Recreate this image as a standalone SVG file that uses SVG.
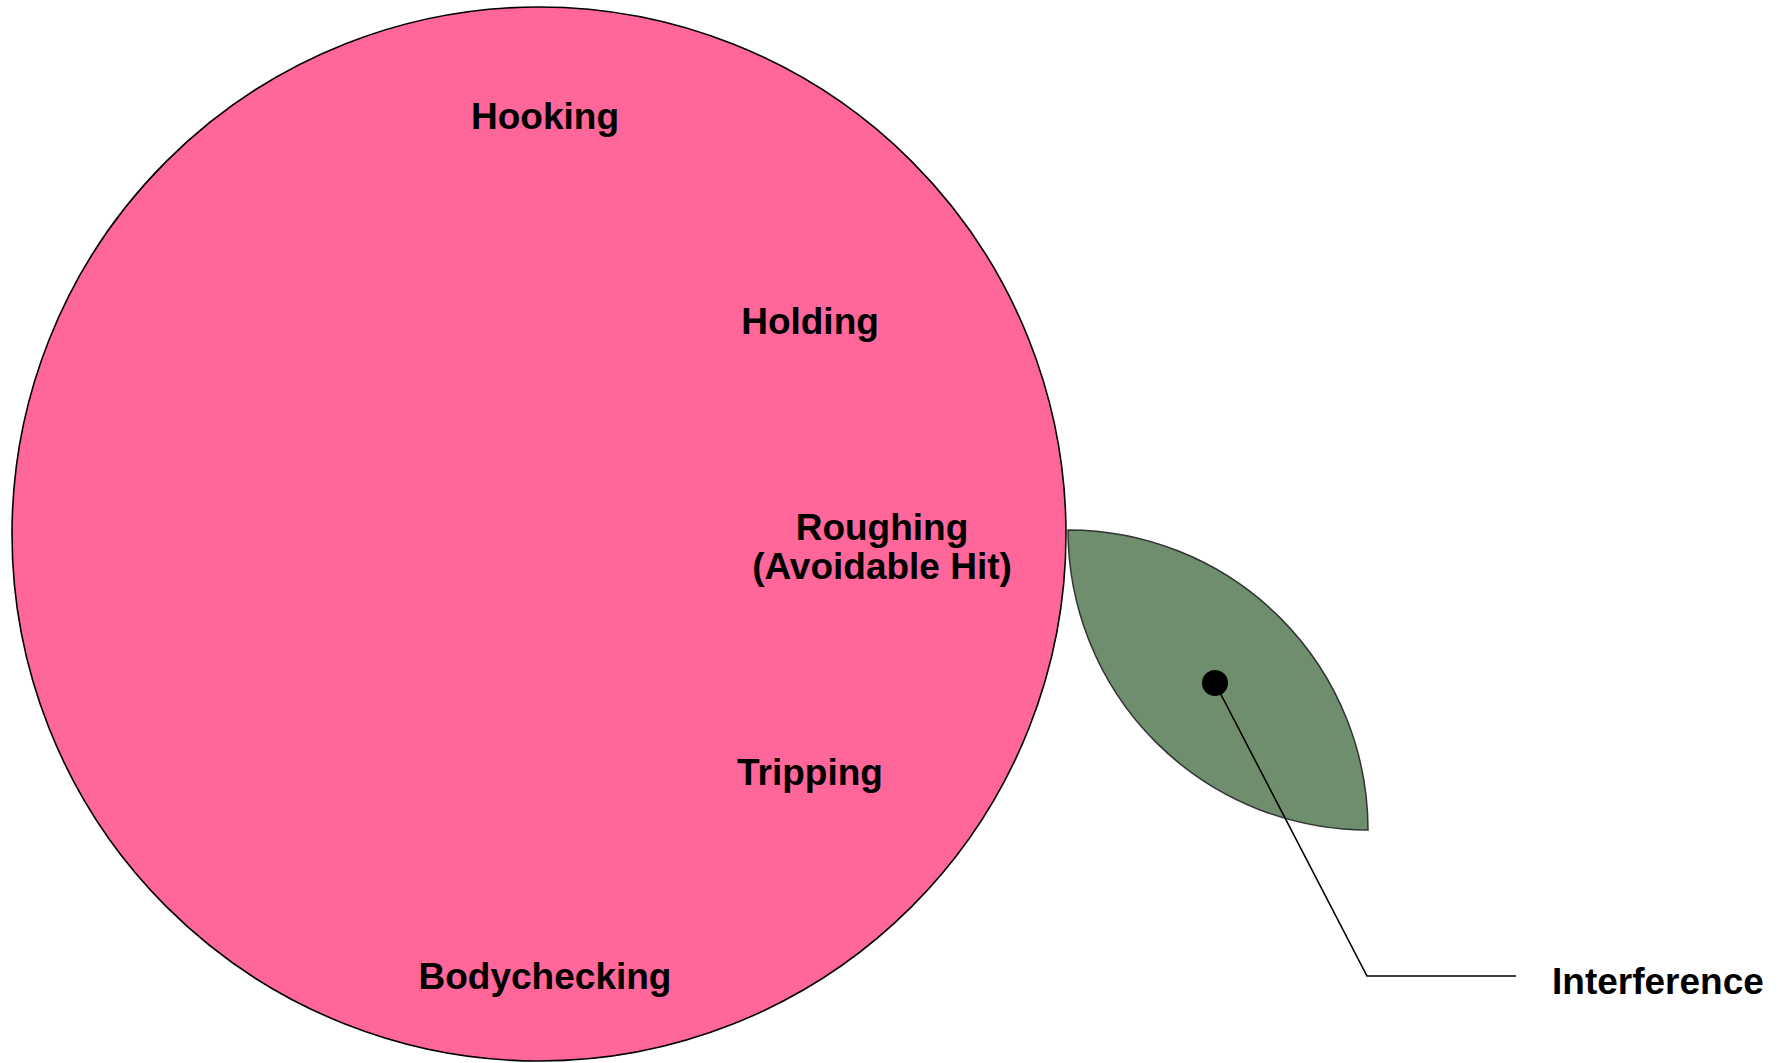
<svg xmlns="http://www.w3.org/2000/svg" width="1779" height="1063" viewBox="0 0 1779 1063">
<style>
.lbl{font-family:"Liberation Sans",Arial,sans-serif;font-weight:bold;font-size:37px;fill:#000;text-anchor:middle}
.lblL{font-family:"Liberation Sans",Arial,sans-serif;font-weight:bold;font-size:37px;fill:#000;text-anchor:start}
.conn{fill:none;stroke:#000;stroke-width:1.6}
</style>
<rect width="1779" height="1063" fill="#fff"/>
<g id="main-circle">
<circle cx="539" cy="534" r="527" fill="#FF6699" stroke="#000" stroke-width="1.6"/>
<text class="lbl" x="545" y="129">Hooking</text>
<text class="lbl" x="810" y="334">Holding</text>
<text class="lbl" x="882" y="540">Roughing</text>
<text class="lbl" x="882" y="579">(Avoidable Hit)</text>
<text class="lbl" x="810" y="785">Tripping</text>
<text class="lbl" x="545" y="989">Bodychecking</text>
</g>
<g id="interference-leaf">
<path d="M1068,530 A300,300 0 0 1 1368,830 A300,300 0 0 1 1068,530 Z" fill="#6E8E6E" stroke="#333" stroke-width="1.5"/>
<circle cx="1215" cy="683" r="13" fill="#000"/>
</g>
<g id="connectors">
<polyline class="conn" points="1215,683 1367,976 1516,976"/>
</g>
<g id="interference-label">
<text class="lblL" x="1552" y="994">Interference</text>
</g>
</svg>
